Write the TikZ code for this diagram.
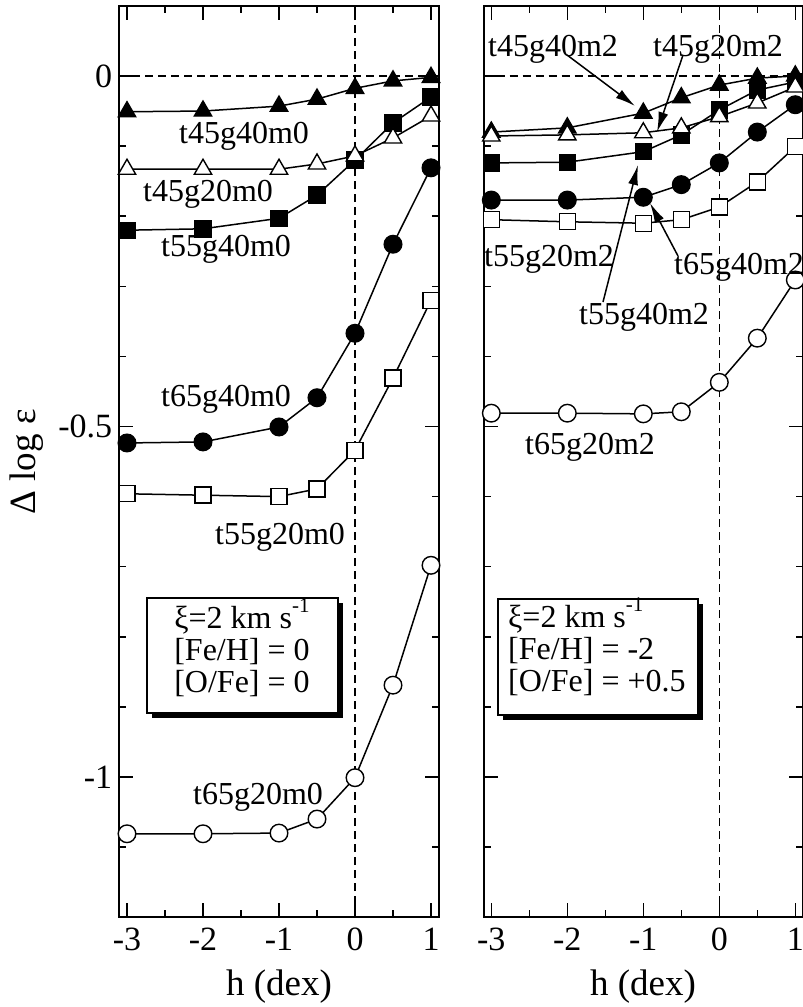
\documentclass[tikz,border=0pt]{standalone}
\usepackage{fontspec}
\setmainfont{Liberation Serif}
\usetikzlibrary{arrows.meta,plotmarks}
\newcommand\curvefont{\fontsize{32}{36}\selectfont}
\newcommand\tickfont{\fontsize{34}{38}\selectfont}
\newcommand\axisfont{\fontsize{37}{40}\selectfont}
\newcommand\supfont{\fontsize{21}{22}\selectfont}
\begin{document}
\begin{tikzpicture}[x=1pt,y=1pt,
  every node/.style={inner sep=0pt},
  curve/.style={line width=1.5pt},
  ftri/.style={curve, mark=triangle*, mark size=10pt, mark options={fill=black, line width=1.4pt}},
  otri/.style={curve, mark=triangle*, mark size=10pt, mark options={fill=white, line width=1.4pt}},
  fsq/.style={curve, mark=square*, mark size=8pt, mark options={fill=black, line width=1.4pt}},
  osq/.style={curve, mark=square*, mark size=8pt, mark options={fill=white, line width=1.4pt}},
  fcirc/.style={curve, mark=*, mark size=8.8pt, mark options={fill=black, line width=1.4pt}},
  ocirc/.style={curve, mark=*, mark size=8.8pt, mark options={fill=white, line width=1.4pt}},
  frame/.style={line width=2pt},
  tick/.style={line width=1.5pt},
  guide/.style={line width=1.5pt, dash pattern=on 8pt off 5pt},
  pointer/.style={line width=1.5pt, -{Latex[length=20pt,width=10pt]}},
  curvelab/.style={anchor=base, font=\curvefont},
  boxline/.style={line width=1.5pt, fill=white},
]
\useasboundingbox (0,0) rectangle (803,1007);

% ---------------- left panel ----------------
\begin{scope}[shift={(355pt,931pt)}, x=76pt, y=701pt]
  \draw[guide] (-3.1,0) -- (1.1,0);
  \draw[guide] (0,-1.2) -- (0,0.1);
  \foreach \h in {-3,-2,-1,0,1} {
    \draw[tick] (\h,-1.2) -- ++(0,14pt);
    \draw[tick] (\h,0.1) -- ++(0,-14pt);
  }
  \foreach \h in {-2.5,-1.5,-0.5,0.5} {
    \draw[tick] (\h,-1.2) -- ++(0,7pt);
    \draw[tick] (\h,0.1) -- ++(0,-7pt);
  }
  \foreach \v in {0,-0.5,-1} {
    \draw[tick] (-3.1,\v) -- ++(14pt,0);
    \draw[tick] (1.1,\v) -- ++(-14pt,0);
  }
  \foreach \v in {-0.1,-0.2,-0.3,-0.4,-0.6,-0.7,-0.8,-0.9,-1.1} {
    \draw[tick] (-3.1,\v) -- ++(7pt,0);
    \draw[tick] (1.1,\v) -- ++(-7pt,0);
  }
  \draw[frame] (-3.1,-1.2) rectangle (1.1,0.1);
  \foreach \h [count=\i] in {-3,-2,-1,0,1}
    \node[anchor=base, font=\tickfont] (lxt\i) at ([yshift=-33pt]\h,-1.2) {\h};
  \node[anchor=east, font=\tickfont] (ly1) at ([xshift=-7pt]-3.1,0) {0};
  \node[anchor=east, font=\tickfont] (ly2) at ([xshift=-7pt]-3.1,-0.5) {-0.5};
  \node[anchor=east, font=\tickfont] (ly3) at ([xshift=-7pt]-3.1,-1) {-1};

  \draw[ftri] plot coordinates {(-3,-0.051) (-2,-0.050) (-1,-0.043) (-0.5,-0.033) (0,-0.0176) (0.5,-0.007) (1,-0.002)};
  \draw[fsq] plot coordinates {(-3,-0.220) (-2,-0.218) (-1,-0.203) (-0.5,-0.170) (0,-0.120) (0.5,-0.067) (1,-0.030)};
  \draw[otri] plot coordinates {(-3,-0.133) (-2,-0.133) (-1,-0.133) (-0.5,-0.1255) (0,-0.114) (0.5,-0.0884) (1,-0.057)};
  \draw[fcirc] plot coordinates {(-3,-0.5235) (-2,-0.522) (-1,-0.5007) (-0.5,-0.459) (0,-0.367) (0.5,-0.240) (1,-0.131)};
  \draw[osq] plot coordinates {(-3,-0.596) (-2,-0.598) (-1,-0.600) (-0.5,-0.589) (0,-0.534) (0.5,-0.431) (1,-0.320)};
  \draw[ocirc] plot coordinates {(-3,-1.081) (-2,-1.081) (-1,-1.080) (-0.5,-1.060) (0,-1.001) (0.5,-0.869) (1,-0.698)};
\end{scope}

\node[curvelab] (l1) at (244,863) {t45g40m0};
\node[curvelab] (l2) at (208,805) {t45g20m0};
\node[curvelab] (l3) at (226,750) {t55g40m0};
\node[curvelab] (l4) at (226,600) {t65g40m0};
\node[curvelab] (l5) at (280,462) {t55g20m0};
\node[curvelab] (l6) at (258,202) {t65g20m0};

% left info box
\fill (152,289) rectangle (343,404);
\draw[boxline] (147,294) rectangle (338,409);
\node[anchor=base, font=\curvefont] (lb1) at (242,378) {ξ=2 km s\raisebox{0.5em}{\supfont -1}};
\node[anchor=base, font=\curvefont] (lb2) at (242,346) {[Fe/H] = 0};
\node[anchor=base, font=\curvefont] (lb3) at (242,314) {[O/Fe] = 0};

% ---------------- right panel ----------------
\begin{scope}[shift={(719.3pt,931pt)}, x=76pt, y=701pt]
  \draw[guide] (-3.1,0) -- (1.1,0);
  \draw[guide] (0,-1.2) -- (0,0.1);
  \foreach \h in {-3,-2,-1,0,1} {
    \draw[tick] (\h,-1.2) -- ++(0,14pt);
    \draw[tick] (\h,0.1) -- ++(0,-14pt);
  }
  \foreach \h in {-2.5,-1.5,-0.5,0.5} {
    \draw[tick] (\h,-1.2) -- ++(0,7pt);
    \draw[tick] (\h,0.1) -- ++(0,-7pt);
  }
  \foreach \v in {0,-0.5,-1} {
    \draw[tick] (-3.1,\v) -- ++(14pt,0);
    \draw[tick] (1.1,\v) -- ++(-14pt,0);
  }
  \foreach \v in {-0.1,-0.2,-0.3,-0.4,-0.6,-0.7,-0.8,-0.9,-1.1} {
    \draw[tick] (-3.1,\v) -- ++(7pt,0);
    \draw[tick] (1.1,\v) -- ++(-7pt,0);
  }
  \draw[frame] (-3.1,-1.2) rectangle (1.1,0.1);
  \foreach \h [count=\i] in {-3,-2,-1,0,1}
    \node[anchor=base, font=\tickfont] (rxt\i) at ([yshift=-33pt]\h,-1.2) {\h};

  \draw[ftri] plot coordinates {(-3,-0.080) (-2,-0.074) (-1,-0.053) (-0.5,-0.031) (0,-0.013) (0.5,-0.003) (1,0.0)};
  \draw[fsq] plot coordinates {(-3,-0.124) (-2,-0.123) (-1,-0.108) (-0.5,-0.084) (0,-0.0485) (0.5,-0.020) (1,-0.0086)};
  \draw[fcirc] plot coordinates {(-3,-0.177) (-2,-0.177) (-1,-0.173) (-0.5,-0.155) (0,-0.124) (0.5,-0.080) (1,-0.041)};
  \draw[osq] plot coordinates {(-3,-0.205) (-2,-0.208) (-1,-0.210) (-0.5,-0.205) (0,-0.187) (0.5,-0.151) (1,-0.101)};
  \draw[otri] plot coordinates {(-3,-0.0856) (-2,-0.084) (-1,-0.081) (-0.5,-0.074) (0,-0.058) (0.5,-0.0385) (1,-0.0157)};
  \draw[ocirc] plot coordinates {(-3,-0.481) (-2,-0.481) (-1,-0.482) (-0.5,-0.479) (0,-0.437) (0.5,-0.374) (1,-0.291)};
\end{scope}

\node[curvelab] (r1) at (553,950) {t45g40m2};
\node[curvelab] (r2) at (718,950) {t45g20m2};
\node[curvelab] (r3) at (549,740) {t55g20m2};
\node[curvelab] (r4) at (739,732) {t65g40m2};
\node[curvelab] (r5) at (644,682) {t55g40m2};
\node[curvelab] (r6) at (590,552) {t65g20m2};

\coordinate (a1s) at (567,952); \coordinate (a1e) at (635,901);
\coordinate (a2s) at (683,952); \coordinate (a2e) at (657,875);
\coordinate (a3s) at (603,705); \coordinate (a3e) at (638,842);
\coordinate (a4s) at (678,751); \coordinate (a4e) at (650,804);
\draw[pointer] (a1s) -- (a1e);
\draw[pointer] (a2s) -- (a2e);
\draw[pointer] (a3s) -- (a3e);
\draw[pointer] (a4s) -- (a4e);

% right info box
\fill (503,287) rectangle (703,403);
\draw[boxline] (498,292) rectangle (698,408);
\node[anchor=base west, font=\curvefont] (rb1) at (508,379) {ξ=2 km s\raisebox{0.5em}{\supfont -1}};
\node[anchor=base west, font=\curvefont] (rb2) at (508,347) {[Fe/H] = -2};
\node[anchor=base west, font=\curvefont] (rb3) at (508,315) {[O/Fe] = +0.5};

% axis titles
\node[anchor=base, font=\axisfont] (xl1) at (279,12) {h (dex)};
\node[anchor=base, font=\axisfont] (xl2) at (643,12) {h (dex)};
\node[rotate=90, anchor=base, font=\axisfont] (yl) at (35,545) {Δ log ε};
\end{tikzpicture}
\end{document}
